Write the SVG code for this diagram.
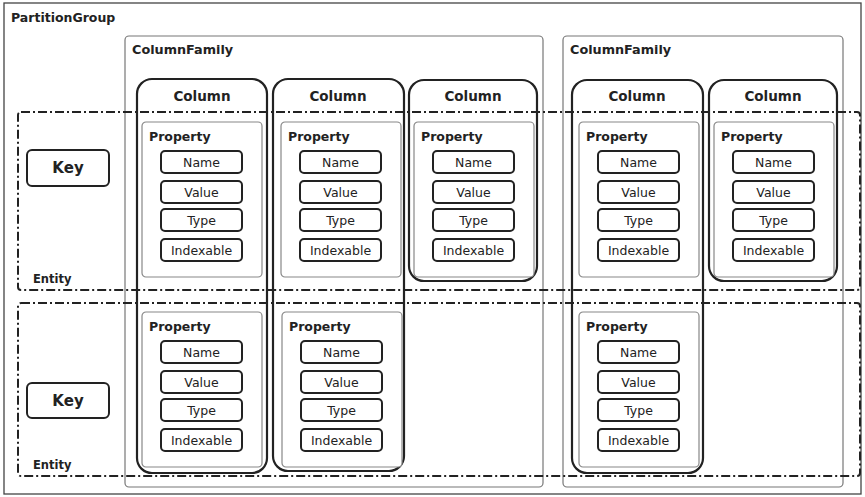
<svg xmlns="http://www.w3.org/2000/svg" width="865" height="497" viewBox="0 0 865 497">
<style>
text{font-family:"DejaVu Sans","Liberation Sans",sans-serif;fill:#222}
.b{font-weight:bold}
.pg{fill:#fff;stroke:#444;stroke-width:1.3}
.cf{fill:none;stroke:#777;stroke-width:1.2}
.col{fill:none;stroke:#222;stroke-width:2.2}
.prop{fill:#fff;stroke:#888;stroke-width:1.2}
.f{fill:#fff;stroke:#222;stroke-width:2}
.ent{fill:none;stroke:#222;stroke-width:2;stroke-dasharray:9 3 2 3}
.ft{font-size:12.5px;text-anchor:middle}
.ct{font-size:13.5px;font-weight:bold;text-anchor:middle}
.pt{font-size:12.5px;font-weight:bold}
.cft{font-size:12.8px;font-weight:bold}
.kt{font-size:15px;font-weight:bold;text-anchor:middle}
.et{font-size:11.5px;font-weight:bold}
</style>
<defs>
<g id="fields">
<rect class="f" x="19" y="29" width="81" height="22" rx="4"/>
<text class="ft" x="59.5" y="44.5">Name</text>
<rect class="f" x="19" y="59" width="81" height="22" rx="4"/>
<text class="ft" x="59.5" y="74.5">Value</text>
<rect class="f" x="19" y="87" width="81" height="22" rx="4"/>
<text class="ft" x="59.5" y="102.5">Type</text>
<rect class="f" x="19" y="117" width="81" height="22" rx="4"/>
<text class="ft" x="59.5" y="132.5">Indexable</text>
</g>
<g id="prop">
<rect class="prop" x="0" y="0" width="120" height="155" rx="4"/>
<text class="pt" x="7" y="19">Property</text>
<use href="#fields"/>
</g>
</defs>
<rect width="865" height="497" fill="#fff"/>
<g id="partitionGroup">
<rect class="pg" x="4" y="3" width="857" height="491"/>
<text class="b" x="11" y="22" style="font-size:12.5px">PartitionGroup</text>
</g>
<g id="columnFamily1">
<rect class="cf" x="125" y="36" width="418" height="451" rx="4"/>
<text class="cft" x="132" y="54">ColumnFamily</text>
</g>
<g id="columnFamily2">
<rect class="cf" x="563" y="36" width="280" height="451" rx="4"/>
<text class="cft" x="570" y="54">ColumnFamily</text>
</g>
<g id="column1">
<rect class="col" x="137" y="79" width="130" height="394" rx="15"/>
<text class="ct" x="202" y="101">Column</text>
<use href="#prop" x="142" y="122"/>
<use href="#prop" x="142" y="312"/>
</g>
<g id="column2">
<rect class="col" x="273" y="79" width="131" height="392" rx="15"/>
<text class="ct" x="338" y="101">Column</text>
<use href="#prop" x="281" y="122"/>
<use href="#prop" x="282" y="312"/>
</g>
<g id="column3">
<rect class="col" x="409" y="80" width="128" height="201" rx="15"/>
<text class="ct" x="473" y="101">Column</text>
<use href="#prop" x="414" y="122"/>
</g>
<g id="column4">
<rect class="col" x="572" y="80" width="131" height="393" rx="15"/>
<text class="ct" x="637" y="101">Column</text>
<use href="#prop" x="579" y="122"/>
<use href="#prop" x="579" y="312"/>
</g>
<g id="column5">
<rect class="col" x="709" y="80" width="128" height="201" rx="15"/>
<text class="ct" x="773" y="101">Column</text>
<use href="#prop" x="714" y="122"/>
</g>
<g id="entity1">
<rect class="ent" x="18" y="112" width="842" height="178" rx="3"/>
<rect class="f" x="27" y="150" width="82" height="36" rx="5"/>
<text class="kt" x="68" y="173">Key</text>
<text class="et" x="33" y="283">Entity</text>
</g>
<g id="entity2">
<rect class="ent" x="18" y="303" width="842" height="173" rx="3"/>
<rect class="f" x="27" y="383" width="82" height="35" rx="5"/>
<text class="kt" x="68" y="406">Key</text>
<text class="et" x="33" y="469">Entity</text>
</g>
<g id="connectors"/>
</svg>
